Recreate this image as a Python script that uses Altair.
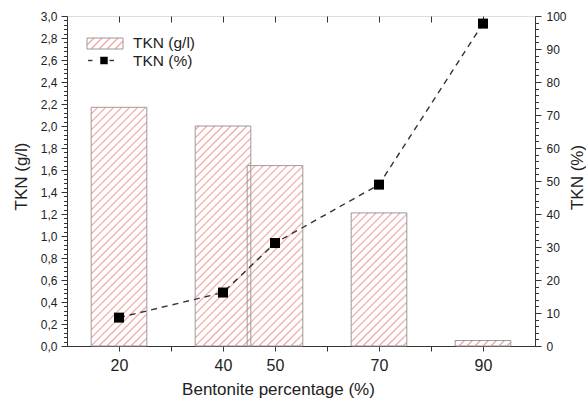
import altair as alt
import numpy as np
import pandas as pd

# ---- data ----
bentonite = [20, 40, 50, 70, 90]            # Bentonite percentage (%)
tkn_gl = [2.17, 2.00, 1.64, 1.21, 0.05]     # TKN (g/l)  -> bars, left axis
tkn_pct = [8.6, 16.2, 31.2, 48.9, 97.7]     # TKN (%)    -> line, right axis

x_tick_values = [20, 30, 40, 50, 60, 70, 80, 90]
x_labelled = [20, 40, 50, 70, 90]

# ---- layout / style constants ----
X_DOMAIN = [10, 100]
YL_DOMAIN = [0, 3]
YR_DOMAIN = [0, 100]
W, H = 468, 330
BAR_HALF = 5.35          # half bar width in x units
HATCH_GAP = 8            # px between hatch lines
FONT = "Liberation Sans"
INK = "#222222"
AX = "#333333"
HATCH = "#f4a3a3"
BAR_EDGE = "#9a9a9a"

bars = pd.DataFrame({"b": bentonite, "v": tkn_gl})
bars["x0"] = bars["b"] - BAR_HALF
bars["x1"] = bars["b"] + BAR_HALF
bars["zero"] = 0.0
pts = pd.DataFrame({"b": bentonite, "p": tkn_pct})

# hatch segments derived from the bars (45 degrees in screen space)
sx = W / (X_DOMAIN[1] - X_DOMAIN[0])
sy = H / (YL_DOMAIN[1] - YL_DOMAIN[0])
rows = []
for _, r in bars.iterrows():
    X0 = (r.x0 - X_DOMAIN[0]) * sx
    X1 = (r.x1 - X_DOMAIN[0]) * sx
    Hp = r.v * sy
    k0 = int(np.floor((X0 - Hp) / HATCH_GAP))
    k1 = int(np.ceil(X1 / HATCH_GAP))
    for k in range(k0, k1 + 1):
        c = k * HATCH_GAP
        xa, xb = max(X0, c), min(X1, c + Hp)
        if xb - xa > 0.5:
            rows.append({"xa": X_DOMAIN[0] + xa / sx, "ya": (xa - c) / sy,
                         "xb": X_DOMAIN[0] + xb / sx, "yb": (xb - c) / sy})
hatch = pd.DataFrame(rows)

xscale = alt.Scale(domain=X_DOMAIN, nice=False, zero=False)
ylscale = alt.Scale(domain=YL_DOMAIN, nice=False)
yrscale = alt.Scale(domain=YR_DOMAIN, nice=False)

left_vals = [round(i * 0.04, 2) for i in range(76)]
right_vals = list(range(0, 101, 2))
major_l = "abs(datum.value*5 - round(datum.value*5)) < 0.001"
major_r = "datum.value % 10 == 0"

common = dict(grid=False, domainColor=AX, tickColor=AX, labelColor=INK,
              labelFont=FONT, titleFont=FONT, titleColor=INK,
              titleFontWeight="normal", labelOverlap=False, labelFlush=False)

bottom_axis = alt.Axis(orient="bottom", values=x_tick_values,
                       labelExpr="indexof(" + str(x_labelled) + ", datum.value) >= 0 ? datum.label : ''",
                       tickSize=5, labelPadding=6, labelFontSize=16,
                       title="Bentonite percentage (%)", titleFontSize=17,
                       titleX=211, titleY=48.5, titleBaseline="alphabetic", **common)
left_axis = alt.Axis(orient="left", values=left_vals,
                     labelExpr=major_l + " ? replace(format(datum.value, '.1f'), '.', ',') : ''",
                     tickSize={"condition": {"test": major_l, "value": 6}, "value": 3.5},
                     labelPadding=4, labelFontSize=12,
                     title="TKN (g/l)", titleFontSize=17, titleAngle=270,
                     titleX=-46, titleY=160, titleAlign="center", titleBaseline="middle",
                     **common)
right_axis = alt.Axis(orient="right", values=right_vals,
                      labelExpr=major_r + " ? datum.label : ''",
                      tickSize={"condition": {"test": major_r, "value": 6}, "value": 3.5},
                      labelPadding=5, labelFontSize=12,
                      title="TKN (%)", titleFontSize=17, titleAngle=270,
                      titleX=42, titleY=161, titleAlign="center", titleBaseline="middle",
                      **common)
top_axis = alt.Axis(orient="top", values=x_tick_values, labels=False, domain=False,
                    tickSize=6, offset=-6, title=None, grid=False, tickColor=AX)

hatch_layer = alt.Chart(hatch).mark_rule(color=HATCH, strokeWidth=1.2).encode(
    x=alt.X("xa:Q", scale=xscale, axis=None), x2="xb:Q",
    y=alt.Y("ya:Q", scale=ylscale, axis=None), y2="yb:Q")
bar_layer = alt.Chart(bars).mark_rect(fill="white", fillOpacity=0, stroke=BAR_EDGE,
                                      strokeWidth=1).encode(
    x=alt.X("x0:Q", scale=xscale, axis=bottom_axis), x2="x1:Q",
    y=alt.Y("v:Q", scale=ylscale, axis=left_axis), y2="zero:Q")

line_layer = alt.Chart(pts).mark_line(color=AX, strokeDash=[6, 5], strokeWidth=1.4).encode(
    x=alt.X("b:Q", scale=xscale, axis=None),
    y=alt.Y("p:Q", scale=yrscale, axis=right_axis))
pt_layer = alt.Chart(pts).mark_point(shape="square", filled=True, size=100,
                                     color="black", opacity=1).encode(
    x=alt.X("b:Q", scale=xscale, axis=None),
    y=alt.Y("p:Q", scale=yrscale, axis=None))

top_layer = alt.Chart(bars).mark_point(opacity=0).encode(
    x=alt.X("b:Q", scale=xscale, axis=top_axis))

# ---- hand-made legend (pixel positions inside the plot area) ----
one = pd.DataFrame({"a": [0]})
LX0, LX1, LY0, LY1 = 20, 56, 22, 33
legend = []
for k in range(int((LX0 - (LY1 - LY0)) // HATCH_GAP), int(LX1 // HATCH_GAP) + 2):
    c = k * HATCH_GAP
    xa, xb = max(LX0, c), min(LX1, c + (LY1 - LY0))
    if xb - xa > 0.5:
        legend.append(alt.Chart(one).mark_rule(color=HATCH, strokeWidth=1.2).encode(
            x=alt.value(xa), x2=alt.value(xb),
            y=alt.value(LY1 - (xa - c)), y2=alt.value(LY1 - (xb - c))))
legend.append(alt.Chart(one).mark_rect(fill="white", fillOpacity=0, stroke=BAR_EDGE,
                                       strokeWidth=1).encode(
    x=alt.value(LX0), x2=alt.value(LX1), y=alt.value(LY0), y2=alt.value(LY1)))
legend.append(alt.Chart(one).mark_text(text="TKN (g/l)", align="left", baseline="alphabetic",
                                       font=FONT, fontSize=15.5, color=INK).encode(
    x=alt.value(66), y=alt.value(31.5)))
for a, b in [(21, 25.5), (42.5, 47)]:
    legend.append(alt.Chart(one).mark_rule(color=AX, strokeWidth=1.4).encode(
        x=alt.value(a), x2=alt.value(b), y=alt.value(44.5)))
legend.append(alt.Chart(one).mark_point(shape="square", filled=True, size=56,
                                        color="black", opacity=1).encode(
    x=alt.value(37), y=alt.value(44.5)))
legend.append(alt.Chart(one).mark_text(text="TKN (%)", align="left", baseline="alphabetic",
                                       font=FONT, fontSize=15.5, color=INK).encode(
    x=alt.value(66), y=alt.value(50)))

chart = alt.layer(hatch_layer, bar_layer, line_layer, pt_layer, top_layer, *legend).resolve_scale(
    y="independent").resolve_axis(x="independent", y="independent").properties(
    width=W, height=H,
    autosize=alt.AutoSizeParams(type="none"),
    padding={"left": 67, "top": 16, "right": 51, "bottom": 53},
).configure_view(stroke=AX, strokeWidth=1).configure(background="white")

chart.save("out.html", embed_options={"renderer": "svg", "actions": False})
